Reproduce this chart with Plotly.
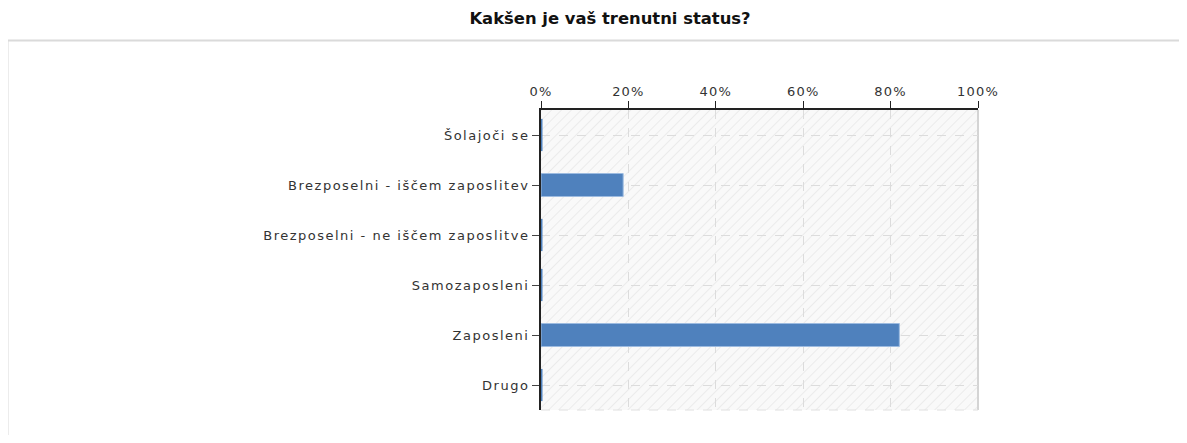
import plotly.graph_objects as go

categories = ["Šolajoči se", "Brezposelni - iščem zaposlitev", "Brezposelni - ne iščem zaposlitve",
              "Samozaposleni", "Zaposleni", "Drugo"]
values = [0, 18.8, 0, 0, 82.0, 0]
tick_vals = [0, 20, 40, 60, 80, 100]
tick_text = ["0%", "20%", "40%", "60%", "80%", "100%"]
title_text = "Kakšen je vaš trenutni status?"

BLUE = "#4f81bd"
OFF = 8  # page body margin
W, H = 1171, 427
PX0, PX1, PY0, PY1 = 541, 978, 110, 410  # plot area in page pixels
ML, MR, MT, MB = PX0 - OFF, OFF + W - PX1, PY0 - OFF, OFF + H - PY1
PW, PH = PX1 - PX0, PY1 - PY0

fig = go.Figure()
fig.add_trace(go.Bar(
    y=categories, x=values, orientation="h",
    marker=dict(color=BLUE, line=dict(color="#9dbbe0", width=1)),
    hoverinfo="x+y",
))
# zero-valued answers are drawn as a thin line at the axis
zero_cats = [c for c, v in zip(categories, values) if v == 0]
fig.add_trace(go.Scatter(
    y=zero_cats, x=[0] * len(zero_cats), mode="markers",
    marker=dict(symbol="line-ns-open", size=23, color=BLUE, line=dict(color=BLUE, width=3)),
    hoverinfo="skip", showlegend=False, cliponaxis=False,
))

hatch_svg = (
    "data:image/svg+xml;utf8,"
    f"<svg xmlns='http://www.w3.org/2000/svg' width='{PW}' height='{PH}'>"
    "<defs><pattern id='p' width='7' height='7' patternUnits='userSpaceOnUse' patternTransform='rotate(45)'>"
    "<rect width='7' height='7' fill='%23f9f9f9'/>"
    "<line x1='0' y1='0' x2='0' y2='7' stroke='%23ebebeb' stroke-width='2'/></pattern></defs>"
    f"<rect width='{PW}' height='{PH}' fill='url(%23p)'/></svg>"
)

tickfont = dict(family="'DejaVu Sans', Verdana, sans-serif", size=13, color="#333")

fig.update_layout(
    width=W, height=H,
    margin=dict(l=ML, r=MR, t=MT, b=MB, pad=0),
    paper_bgcolor="white", plot_bgcolor="rgba(0,0,0,0)",
    showlegend=False, bargap=0.54,
    title=dict(text="<b>" + title_text + "</b>", x=(610 - OFF) / W, xref="container", xanchor="center",
               y=1 - (18 - OFF) / H, yref="container", yanchor="middle",
               font=dict(family="'DejaVu Sans', sans-serif", size=16.4, color="#111")),
    xaxis=dict(side="top", range=[0, 100], tickvals=tick_vals, ticktext=tick_text,
               showline=True, linecolor="#222", linewidth=2, ticks="outside", ticklen=7,
               tickcolor="#222", tickwidth=1,
               showgrid=True, gridcolor="#dcdcdc", griddash="dash", gridwidth=1,
               zeroline=False, fixedrange=True, tickfont=tickfont),
    yaxis=dict(categoryorder="array", categoryarray=categories[::-1], autorange=False,
               range=[-0.5, len(categories) - 0.5],
               showline=True, linecolor="#222", linewidth=2, ticks="outside", ticklen=7,
               tickcolor="#444", tickwidth=1,
               showgrid=True, gridcolor="#dcdcdc", griddash="dash", gridwidth=1,
               zeroline=False, fixedrange=True, tickfont=tickfont),
    images=[dict(source=hatch_svg, xref="paper", yref="paper", x=0, y=1, sizex=1, sizey=1,
                 xanchor="left", yanchor="top", sizing="stretch", layer="below")],
    shapes=[
        # outer panel border
        dict(type="rect", xref="paper", yref="paper",
             x0=(7.5 - PX0) / PW, x1=1.6, y0=-0.3, y1=(PY1 - 40.5) / PH,
             line=dict(color="#dadada", width=2), fillcolor="rgba(0,0,0,0)", layer="below"),
        # plot frame right and bottom
        dict(type="line", xref="paper", yref="paper", x0=1, x1=1, y0=0, y1=1,
             line=dict(color="#d4d4d4", width=2), layer="below"),
        dict(type="line", xref="paper", yref="paper", x0=0, x1=1, y0=0, y1=0,
             line=dict(color="#e0e0e0", width=1, dash="dash"), layer="below"),
    ],
)

post = """
var gd = document.getElementById('{plot_id}');
function spaceTicks(){
  gd.querySelectorAll('.ytick text').forEach(function(t){t.setAttribute('letter-spacing','1.5px');});
  gd.querySelectorAll('.xtick text').forEach(function(t){t.setAttribute('letter-spacing','1.2px');});
}
spaceTicks();
gd.on('plotly_afterplot', spaceTicks);
"""

fig.write_html("out.html", post_script=post)
